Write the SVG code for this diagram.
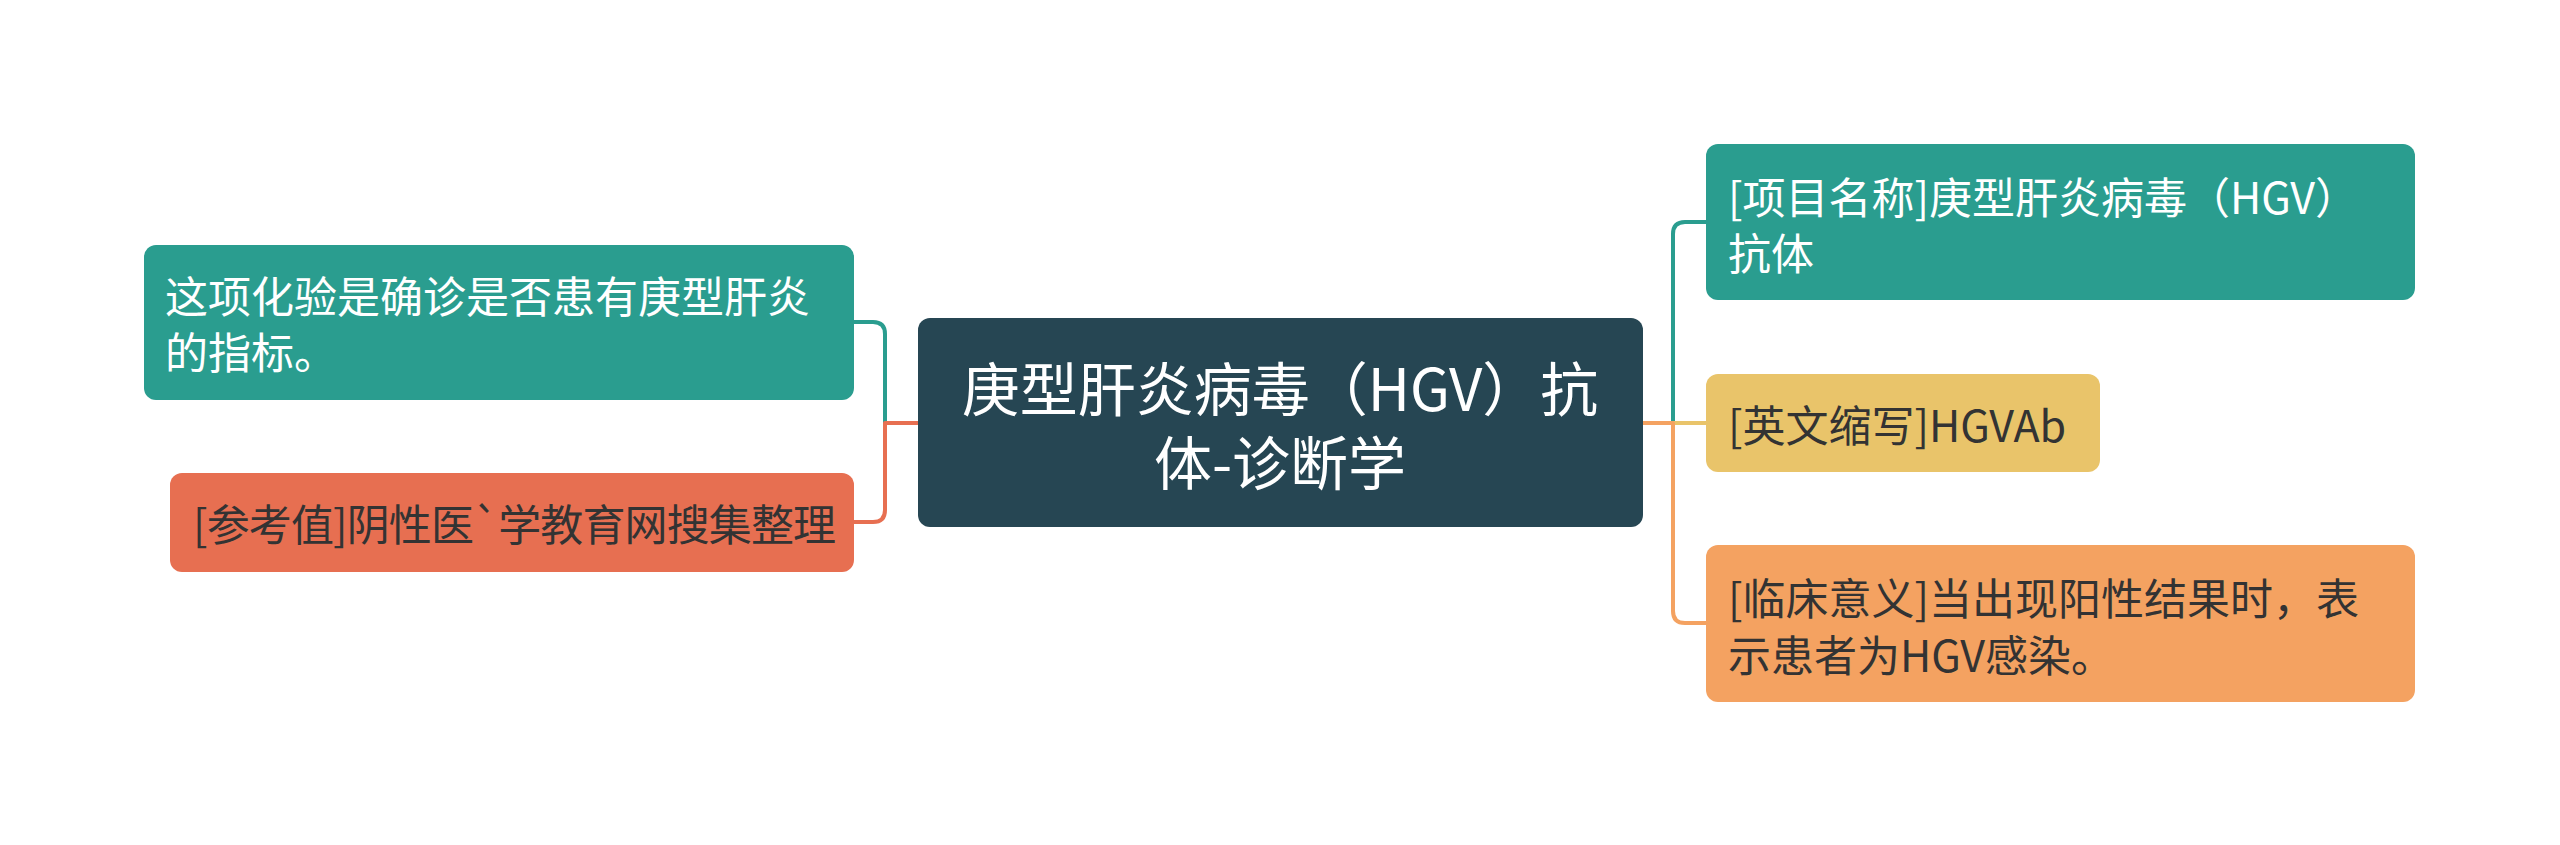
<svg xmlns="http://www.w3.org/2000/svg" width="2560" height="845" viewBox="0 0 2560 845">
<style>
text{font-family:"Noto Sans CJK SC","Noto Sans",sans-serif;dominant-baseline:central}
.c{font-size:58px;fill:#ffffff;text-anchor:middle}
.n{font-size:43px}
.w{fill:#ffffff}
.d{fill:#333333}
.ln{fill:none;stroke-width:4;stroke-linecap:round;stroke-linejoin:round}
</style>
<rect width="2560" height="845" fill="#ffffff"/>
<g id="connectors">
<path class="ln" stroke="#2A9D8F" d="M918 423 H885 V334 Q885 322 873 322 H854"/>
<path class="ln" stroke="#E76F51" d="M918 423 H885 V510 Q885 522 873 522 H854"/>
<path class="ln" stroke="#2A9D8F" d="M1643 423 H1673 V234 Q1673 222 1685 222 H1706"/>
<path class="ln" stroke="#E9C46A" d="M1643 423 H1706"/>
<path class="ln" stroke="#F4A261" d="M1643 423 H1673 V611 Q1673 623 1685 623 H1706"/>
</g>
<g id="center">
<rect x="918" y="318" width="725" height="209" rx="12" fill="#264653"/>
<text class="c" x="1280" y="386">庚型肝炎病毒（HGV）抗<tspan x="1280" dy="74">体-诊断学</tspan></text>
</g>
<g id="left1">
<rect x="144" y="245" width="710" height="155" rx="12" fill="#2A9D8F"/>
<text class="n w" x="165" y="294">这项化验是确诊是否患有庚型肝炎<tspan x="165" dy="56">的指标。</tspan></text>
</g>
<g id="left2">
<rect x="170" y="473" width="684" height="99" rx="12" fill="#E76F51"/>
<text class="n d" x="193" y="522" textLength="643" lengthAdjust="spacing">[参考值]阴性医`学教育网搜集整理</text>
</g>
<g id="right1">
<rect x="1706" y="144" width="709" height="156" rx="12" fill="#2A9D8F"/>
<text class="n w" x="1728" y="195">[项目名称]庚型肝炎病毒（HGV）<tspan x="1728" dy="56">抗体</tspan></text>
</g>
<g id="right2">
<rect x="1706" y="374" width="394" height="98" rx="12" fill="#E9C46A"/>
<text class="n d" x="1728" y="423">[英文缩写]HGVAb</text>
</g>
<g id="right3">
<rect x="1706" y="545" width="709" height="157" rx="12" fill="#F4A261"/>
<text class="n d" x="1728" y="596">[临床意义]当出现阳性结果时，表<tspan x="1728" dy="57">示患者为HGV感染。</tspan></text>
</g>
</svg>
